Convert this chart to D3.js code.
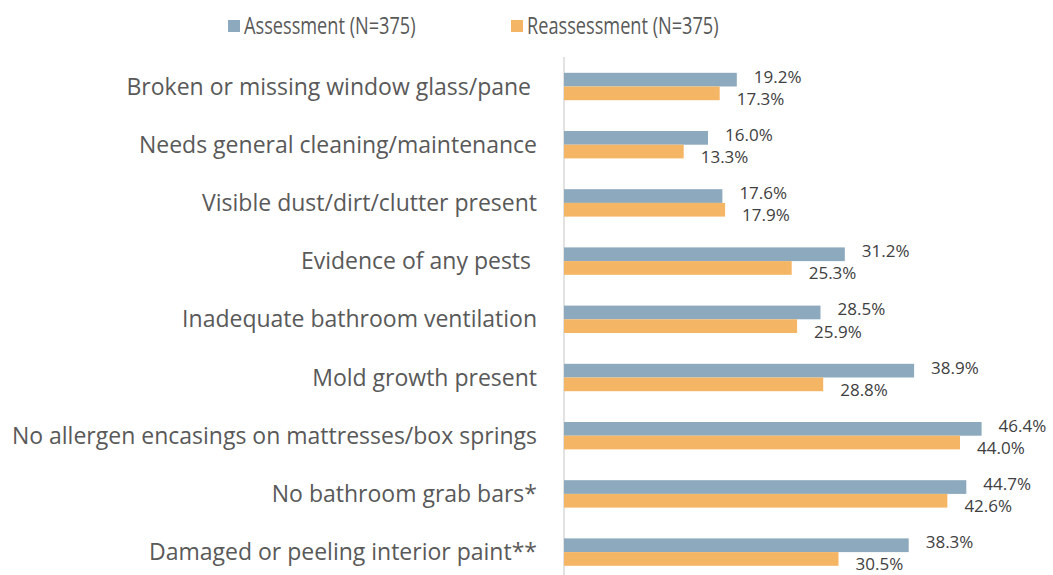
<!DOCTYPE html>
<html>
<head>
<meta charset="utf-8">
<script src="https://cdn.jsdelivr.net/npm/d3@7"></script>
<style>
  body { margin: 0; background: #fff; }
  text { font-family: "Open Sans", sans-serif; }
</style>
</head>
<body>
<svg width="1053" height="575"></svg>
<script>
const categories = [
  "Broken or missing window glass/pane ",
  "Needs general cleaning/maintenance",
  "Visible dust/dirt/clutter present",
  "Evidence of any pests ",
  "Inadequate bathroom ventilation",
  "Mold growth present",
  "No allergen encasings on mattresses/box springs",
  "No bathroom grab bars*",
  "Damaged or peeling interior paint**"
];
const seriesNames = ["Assessment (N=375)", "Reassessment (N=375)"];
const assessment = [19.2, 16.0, 17.6, 31.2, 28.5, 38.9, 46.4, 44.7, 38.3];
const reassessment = [17.3, 13.3, 17.9, 25.3, 25.9, 28.8, 44.0, 42.6, 30.5];
const colors = ["#8CA9BD", "#F4B664"];

const svg = d3.select("svg");
const values = [assessment, reassessment];

const x = d3.scaleLinear().domain([0, 10]).range([564, 654]);
const y = d3.scaleBand().domain(categories).range([57.4, 581.2]).padding(0);
const barH = 13.7;
const ySub = d3.scaleBand().domain(seriesNames).range([0, barH * 2]);

// vertical axis line
svg.append("line")
  .attr("x1", x(0)).attr("x2", x(0))
  .attr("y1", 57).attr("y2", 575)
  .attr("stroke", "#d9d9d9")
  .attr("stroke-width", 1.5);

// category labels
svg.append("g").selectAll("text")
  .data(categories)
  .join("text")
  .attr("x", 537)
  .attr("y", (d) => y(d) + y.bandwidth() / 2)
  .attr("dy", "0.35em")
  .attr("text-anchor", "end")
  .attr("font-size", "23px")
  .attr("fill", "#595959")
  .style("white-space", "pre")
  .text((d) => d);

// bars + value labels
seriesNames.forEach((s, si) => {
  const g = svg.append("g");
  const off = (y.bandwidth() - barH * 2) / 2;
  g.selectAll("rect")
    .data(values[si])
    .join("rect")
    .attr("x", x(0))
    .attr("y", (d, i) => y(categories[i]) + off + ySub(s))
    .attr("width", (d) => x(d) - x(0))
    .attr("height", ySub.bandwidth())
    .attr("fill", colors[si]);

  g.selectAll("text")
    .data(values[si])
    .join("text")
    .attr("x", (d) => x(d) + 17)
    .attr("y", (d, i) => y(categories[i]) + off + ySub(s) + barH / 2 + (si === 0 ? -3 : 5.5))
    .attr("dy", "0.35em")
    .attr("font-size", "17px")
    .attr("fill", "#404040")
    .text((d) => d.toFixed(1) + "%");
});

// legend (narrow glyphs, like the original)
const legendX = [228, 511];
const legend = svg.append("g");
seriesNames.forEach((s, si) => {
  legend.append("rect")
    .attr("x", legendX[si]).attr("y", 20)
    .attr("width", 12).attr("height", 12)
    .attr("fill", colors[si]);
  legend.append("text")
    .attr("transform", `translate(${legendX[si] + 16},26) scale(0.79,1)`)
    .attr("dy", "0.35em")
    .attr("font-size", "23px")
    .attr("fill", "#595959")
    .text(s);
});
</script>
</body>
</html>
